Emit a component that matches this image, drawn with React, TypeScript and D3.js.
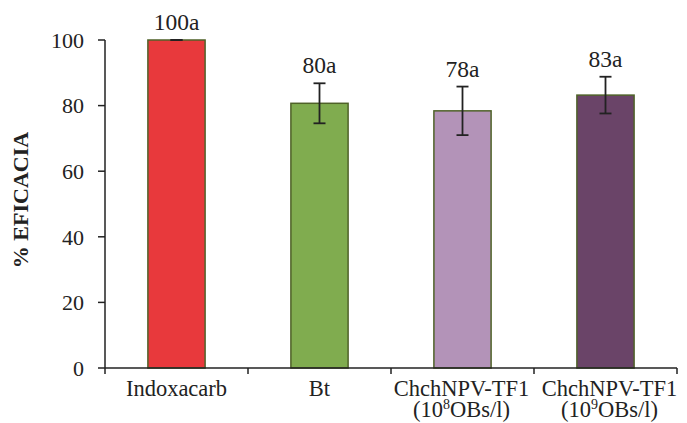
import React from "react";
import * as d3 from "d3";

const categories = ["Indoxacarb", "Bt", "ChchNPV-TF1 (10^8)", "ChchNPV-TF1 (10^9)"];
const line1 = ["Indoxacarb", "Bt", "ChchNPV-TF1", "ChchNPV-TF1"];
const supExp = ["", "", "8", "9"];
const values = [100, 80.7, 78.4, 83.2];
const errors = [0, 6.1, 7.4, 5.6];
const labels = ["100a", "80a", "78a", "83a"];
const colors = ["#E8393C", "#80AC4F", "#B393B8", "#6A4468"];
const yTicks = [0, 20, 40, 60, 80, 100];

const W = 687, H = 423;
const x0 = 105, x1 = 677, yTop = 40, yBot = 368;
const FONT = "'Liberation Serif', 'Times New Roman', serif";

export default function App() {
  const xb = d3.scaleBand<string>().domain(categories).range([x0, x1]);
  const bw = xb.bandwidth() * 0.4;
  const y = d3.scaleLinear().domain([0, 100]).range([yBot, yTop]);
  return (
    <svg width={W} height={H} style={{ position: "absolute", left: 0, top: 0, fontFamily: FONT }}>
      {categories.map((c, i) => {
        const cx = xb(c)! + xb.bandwidth() / 2;
        const bx = cx - bw / 2;
        const top = y(values[i] + errors[i]);
        const bot = y(values[i] - errors[i]);
        const lx = cx + (i === 3 ? 4 : i === 2 ? -1 : 0);
        return (
          <g key={c}>
            <rect x={bx} y={y(values[i])} width={bw} height={yBot - y(values[i])} fill={colors[i]} stroke="#4F6228" strokeWidth={1.5} />
            <line x1={cx} x2={cx} y1={top} y2={bot} stroke="#222" strokeWidth={1.8} />
            <line x1={cx - 6} x2={cx + 6} y1={top} y2={top} stroke="#222" strokeWidth={1.8} />
            <line x1={cx - 6} x2={cx + 6} y1={bot} y2={bot} stroke="#222" strokeWidth={1.8} />
            <text x={cx} y={top - 10} textAnchor="middle" fontSize={23.5} fill="#222">{labels[i]}</text>
            <text x={lx} y={396} textAnchor="middle" fontSize={22.5} fill="#222">{line1[i]}</text>
            {supExp[i] && (
              <text x={lx} y={417} textAnchor="middle" fontSize={22.5} fill="#222">
                (10<tspan fontSize={14} dy={-8}>{supExp[i]}</tspan><tspan dy={8}>OBs/l)</tspan>
              </text>
            )}
          </g>
        );
      })}
      <line x1={x0} x2={x0} y1={yTop} y2={yBot} stroke="#222" strokeWidth={1.5} />
      <line x1={x0} x2={x1} y1={yBot} y2={yBot} stroke="#222" strokeWidth={1.5} />
      {yTicks.map((t) => (
        <g key={t}>
          <line x1={x0 - 7} x2={x0} y1={y(t)} y2={y(t)} stroke="#222" strokeWidth={1.5} />
          <text x={84} y={y(t)} dy="0.35em" textAnchor="end" fontSize={22} fill="#222">{t}</text>
        </g>
      ))}
      {[...categories.map((c) => xb(c)!), x1].map((v, i) => (
        <line key={i} x1={v} x2={v} y1={yBot} y2={yBot + 6} stroke="#222" strokeWidth={1.5} />
      ))}
      <text transform={`translate(28,200) rotate(-90)`} textAnchor="middle" fontSize={22} fontWeight="bold" fill="#222">% EFICACIA</text>
    </svg>
  );
}
